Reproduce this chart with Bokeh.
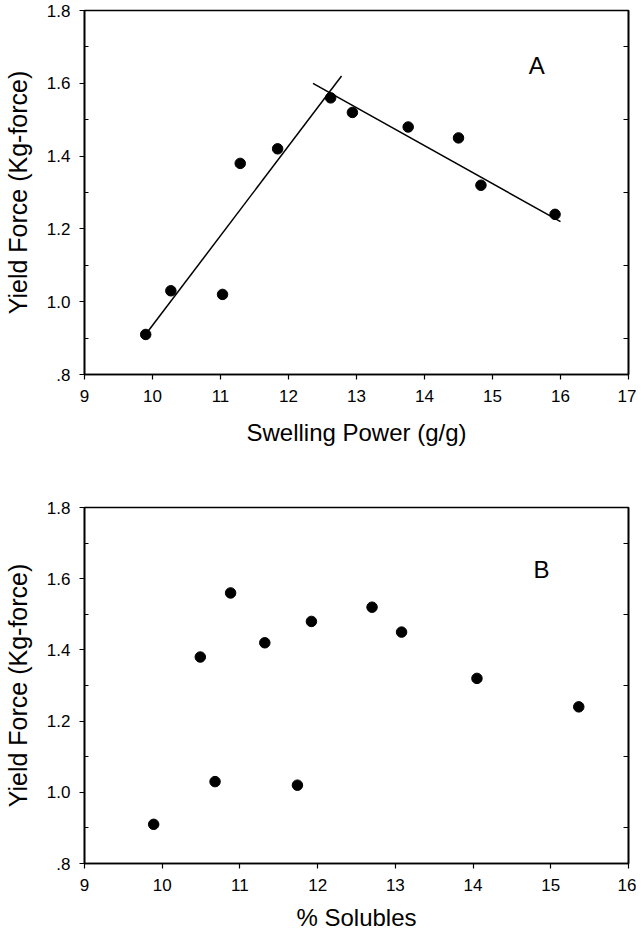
from bokeh.plotting import figure
from bokeh.models import Range1d, FixedTicker, LinearAxis
from bokeh.layouts import column
from bokeh.core.properties import value
from bokeh.embed import file_html
from bokeh.resources import INLINE

# ---- data ----
yield_force = [0.91, 1.03, 1.02, 1.38, 1.42, 1.56, 1.52, 1.48, 1.45, 1.32, 1.24]
swelling_power = [9.90, 10.27, 11.03, 11.29, 11.84, 12.62, 12.94, 13.76, 14.50, 14.83, 15.92]

yield_force_b = [0.91, 1.38, 1.03, 1.56, 1.42, 1.02, 1.48, 1.52, 1.45, 1.32, 1.24]
solubles = [9.89, 10.49, 10.68, 10.88, 11.32, 11.74, 11.92, 12.70, 13.08, 14.05, 15.36]

# fitted lines (panel A)
fit1_x = [9.94, 12.78]
fit1_y = [0.92, 1.62]
fit2_x = [12.36, 16.00]
fit2_y = [1.60, 1.22]

y_ticks = [0.8, 1.0, 1.2, 1.4, 1.6, 1.8]
y_tick_labels = [".8", "1.0", "1.2", "1.4", "1.6", "1.8"]
y_minor = [0.9, 1.1, 1.3, 1.5, 1.7]
xa_ticks = [9, 10, 11, 12, 13, 14, 15, 16, 17]
xb_ticks = [9, 10, 11, 12, 13, 14, 15, 16]

FONT = "Liberation Sans"


def make_fig(height, top, bottom, xr, xticks, xlabel, title_standoff, xs, ys, letter, lpos):
    p = figure(width=636, height=height, output_backend="svg", toolbar_location=None,
               x_range=Range1d(*xr), y_range=Range1d(0.8, 1.8),
               min_border_left=84, min_border_right=8,
               min_border_top=top, min_border_bottom=bottom,
               x_axis_label=xlabel, y_axis_label="Yield Force (Kg-force)")
    p.grid.visible = False
    p.outline_line_color = "black"
    p.outline_line_width = 1.6
    p.outline_line_alpha = 1.0
    p.background_fill_color = "white"
    p.border_fill_color = "white"

    xa = p.xaxis[0]
    xa.ticker = FixedTicker(ticks=xticks)
    xa.major_tick_out = 5
    xa.major_tick_in = 0
    xa.minor_tick_out = 0
    xa.minor_tick_in = 0
    xa.axis_line_width = 1.6
    xa.axis_line_color = "black"
    xa.major_tick_line_color = "black"
    xa.major_tick_line_width = 1.2
    xa.major_label_text_font = FONT
    xa.major_label_text_font_size = "17px"
    xa.major_label_text_color = "black"
    xa.major_label_standoff = 10
    xa.axis_label_text_font = FONT
    xa.axis_label_text_font_size = "24px"
    xa.axis_label_text_font_style = "normal"
    xa.axis_label_text_color = "black"
    xa.axis_label_standoff = title_standoff

    ya = p.yaxis[0]
    ya.ticker = FixedTicker(ticks=y_ticks, minor_ticks=y_minor)
    ya.major_label_overrides = {t: l for t, l in zip(y_ticks, y_tick_labels)}
    ya.major_tick_out = 5
    ya.major_tick_in = 0
    ya.minor_tick_out = 0
    ya.minor_tick_in = 4
    ya.axis_line_width = 1.6
    ya.axis_line_color = "black"
    ya.major_tick_line_color = "black"
    ya.minor_tick_line_color = "black"
    ya.major_tick_line_width = 1.2
    ya.major_label_text_font = FONT
    ya.major_label_text_font_size = "17px"
    ya.major_label_text_color = "black"
    ya.major_label_standoff = 9
    ya.axis_label_text_font = FONT
    ya.axis_label_text_font_size = "25px"
    ya.axis_label_text_font_style = "normal"
    ya.axis_label_text_color = "black"
    ya.axis_label_standoff = 12

    ra = LinearAxis(ticker=FixedTicker(ticks=[], minor_ticks=y_minor),
                    major_tick_in=0, major_tick_out=0, minor_tick_in=5, minor_tick_out=0,
                    minor_tick_line_width=1.2, minor_tick_line_color="black",
                    axis_line_width=1.6, axis_line_color="black")
    p.add_layout(ra, "right")

    p.scatter(xs, ys, size=10.5, color="black")
    p.text(x=[lpos[0]], y=[lpos[1]], text=[letter], text_font=value(FONT),
           text_font_size="24px", text_align="center", text_baseline="middle",
           text_color="black")
    return p


p1 = make_fig(450, 10, 76, (9, 17), xa_ticks, "Swelling Power (g/g)", 14,
              swelling_power, yield_force, "A", (15.65, 1.65))
p1.line(fit1_x, fit1_y, line_color="black", line_width=1.5)
p1.line(fit2_x, fit2_y, line_color="black", line_width=1.5)

p2 = make_fig(484, 57, 71, (9, 16), xb_ticks, "% Solubles", 10,
              solubles, yield_force_b, "B", (14.88, 1.625))

layout = column(p1, p2, spacing=0)
open("out.html", "w").write(file_html(layout, INLINE))
